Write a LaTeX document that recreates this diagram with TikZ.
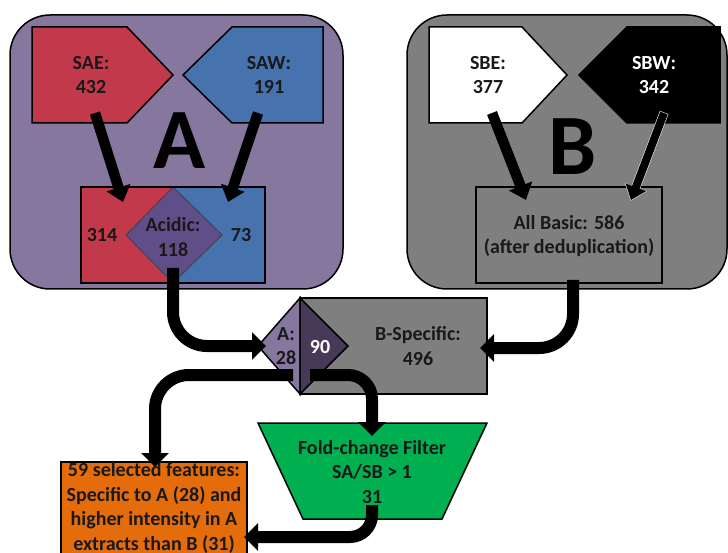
\documentclass[tikz,border=0pt]{standalone}
\usepackage{fontspec}
\setmainfont{Carlito}
\usetikzlibrary{arrows.meta}
\definecolor{cred}{HTML}{C3394C}
\definecolor{cblue}{HTML}{4672AE}
\definecolor{cpurp}{HTML}{86779F}
\definecolor{cdpurp}{HTML}{5F4E87}
\definecolor{cdark}{HTML}{463A58}
\definecolor{cgray}{HTML}{7F7F7F}
\definecolor{cgreen}{HTML}{00B050}
\definecolor{corange}{HTML}{E46C0A}
\begin{document}
\begin{tikzpicture}[x=1pt,y=-1pt,
  shp/.style={draw=black, line width=1.5pt, line join=miter},
  txt/.style={font=\bfseries\fontsize{20}{24.5}\selectfont, align=center, inner sep=0pt, text=black!90},
  bigtxt/.style={font=\bfseries\fontsize{86}{86}\selectfont, inner sep=0pt, text=black},
  diag/.style={line width=10.5pt, -{Triangle[width=24pt,length=15pt]}},
  flow/.style={line width=12pt, -{Triangle[width=27pt,length=14pt]}},
]
\useasboundingbox (0,0) rectangle (728,553);

% containers
\node[shp, fill=cpurp, rounded corners=40pt, minimum width=333pt, minimum height=274pt, inner sep=0pt] (boxA) at (176.5,152) {};
\node[shp, fill=cgray, rounded corners=40pt, minimum width=320pt, minimum height=274pt, inner sep=0pt] (boxB) at (567,152) {};

% pentagons
\draw[shp, fill=cred] (32,27) -- (127,27) -- (173,75) -- (127,123) -- (32,123) -- cycle;
\draw[shp, fill=cblue] (183,75) -- (232,27) -- (323,27) -- (323,123) -- (232,123) -- cycle;
\draw[shp, fill=white] (429,27) -- (522,27) -- (567,75) -- (522,123) -- (429,123) -- cycle;
\draw[shp, fill=black] (579,75) -- (627,27) -- (720,27) -- (720,123) -- (627,123) -- cycle;

\node[txt] (sae) at (91,75) {SAE:\\432};
\node[txt] (saw) at (269,75) {SAW:\\191};
\node[txt] (sbe) at (488,75) {SBE:\\377};
\node[txt, text=white] (sbw) at (654,75) {SBW:\\342};
\node[bigtxt] (bigA) at (180,141) {A};
\node[bigtxt] (bigB) at (573,147) {B};

% acidic box
\fill[cred] (81,187) rectangle (173,283);
\fill[cblue] (173,187) rectangle (265,283);
\draw[line width=0.8pt, draw=black!75, fill=cdpurp] (173,187) -- (222,235) -- (173,283) -- (126,235) -- cycle;
\node[shp, minimum width=184pt, minimum height=96pt, inner sep=0pt] (acid) at (173,235) {};
\node[txt] (acidic) at (173,237) {Acidic:\\118};
\node[txt] (n314) at (102,235) {314};
\node[txt] (n73) at (241,235) {73};

% all basic
\node[shp, minimum width=186pt, minimum height=96pt, inner sep=0pt] (basic) at (569,235) {};
\node[txt] (basictxt) at (569,236) {All Basic: 586\\(after deduplication)};

% arrows in A and B
\coordinate (saeS) at (95,113);
\coordinate (saeE) at (123,202);
\coordinate (sawS) at (258,113);
\coordinate (sawE) at (228,202);
\coordinate (sbeS) at (492,113);
\coordinate (sbeE) at (526,200);
\coordinate (sbwS) at (664.2,112.5);
\coordinate (sbwE) at (630.7,200.8);
\coordinate (sbwS2) at (664,113);
\coordinate (sbwE2) at (631,200);
\draw[diag] (saeS) -- (saeE);
\draw[diag] (sawS) -- (sawE);
\draw[diag] (sbeS) -- (sbeE);
\draw[line width=9.2pt, white!85!gray, -{Triangle[width=22.5pt,length=14.6pt]}] (sbwS) -- (sbwE);
\draw[line width=8pt, black, -{Triangle[width=21pt,length=13.6pt]}] (sbwS2) -- (sbwE2);

% B-specific
\node[shp, fill=cgray, minimum width=187pt, minimum height=96pt, inner sep=0pt] (bspec) at (393.5,346) {};
\draw[shp, fill=cpurp] (300,298) -- (258,346) -- (300,394) -- cycle;
\draw[shp, fill=cdark] (300,298) -- (348,346) -- (300,394) -- cycle;
\node[txt] (a28) at (286,346) {A:\\28};
\node[txt, text=white] (n90) at (320,347) {90};
\node[txt] (bsp) at (418,346) {B-Specific:\\496};

% fold-change
\draw[shp, fill=cgreen] (258,423) -- (487,423) -- (442,519) -- (303,519) -- cycle;
\node[txt] (fold) at (372,472) {Fold-change Filter\\SA/SB > 1\\31};

% orange result
\node[shp, fill=corange, minimum width=186pt, minimum height=110pt, inner sep=0pt] (orange) at (154,517) {};
\node[txt] (sel) at (154,508) {59 selected features:\\Specific to A (28) and\\higher intensity in A\\extracts than B (31)};

% flow arrows
\coordinate (acidOut) at (173,268);
\coordinate (aIn) at (266,346);
\coordinate (basicOut) at (573,280);
\coordinate (bIn) at (480,348);
\coordinate (aOut) at (293,375);
\coordinate (orIn) at (155,467);
\coordinate (dOut) at (310,375);
\coordinate (foldIn) at (372,436);
\coordinate (foldOut) at (372,505);
\coordinate (orIn2) at (244,537);
\draw[flow, rounded corners=34pt] (acidOut) |- (aIn);
\draw[flow, rounded corners=34pt] (basicOut) |- (bIn);
\draw[flow, rounded corners=34pt] (aOut) -| (orIn);
\draw[flow, rounded corners=24pt] (dOut) -| (foldIn);
\draw[flow, rounded corners=22pt] (foldOut) |- (orIn2);
\end{tikzpicture}
\end{document}
